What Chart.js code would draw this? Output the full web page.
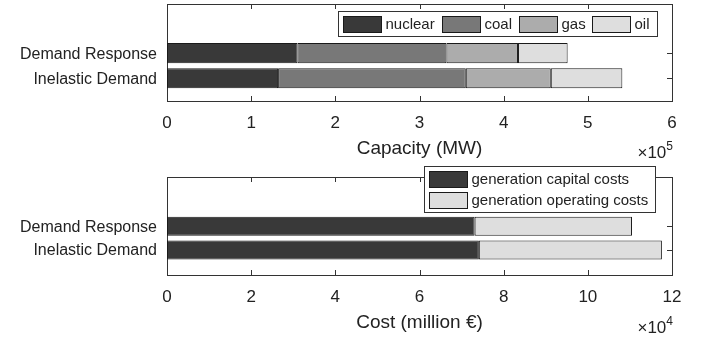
<!DOCTYPE html>
<html>
<head>
<meta charset="utf-8">
<script src="https://cdn.jsdelivr.net/npm/chart.js@4/dist/chart.umd.min.js"></script>
<style>
  html, body { margin: 0; padding: 0; background: #fff; }
  body { width: 702px; height: 339px; position: relative; overflow: hidden; }
  canvas { position: absolute; left: 0; }
  #capacity { top: 0; }
  #cost { top: 165px; }
</style>
</head>
<body>
<canvas id="capacity" width="702" height="170"></canvas>
<canvas id="cost" width="702" height="174"></canvas>
<script>
// Scenarios, plotted bottom-up at y = 1, 2
const categories = ['Inelastic Demand', 'Demand Response'];

// Installed capacity by fuel (MW)
const fuelNames = ['nuclear', 'coal', 'gas', 'oil'];
const nuclearMW = [132000, 155000];
const coalMW    = [223000, 177000];
const gasMW     = [101000,  85000];
const oilMW     = [ 85000,  59000];
const capacityTicks = [0, 1, 2, 3, 4, 5, 6];   // ×10^5 MW

// Generation costs (million €)
const costNames = ['generation capital costs', 'generation operating costs'];
const capitalCost   = [74100, 73100];
const operatingCost = [43500, 37400];
const costTicks = [0, 2, 4, 6, 8, 10, 12];     // ×10^4 million €

const FONT = "'Liberation Sans', Arial, Helvetica, sans-serif";
const INK = '#222222';
const AXIS_INK = '#333333';
const EDGE = '#1a1a1a';
const fuelColors = ['#393939', '#787878', '#acacac', '#dedede'];
const costColors = ['#393939', '#dedede'];

function series(label, values, color) {
  return {
    label,
    data: values.map((v, i) => ({ x: v, y: i + 1 })),
    backgroundColor: color,
    borderColor: EDGE,
    borderWidth: 1,
    borderSkipped: false,
    categoryPercentage: 0.8,
    barPercentage: 1
  };
}

// Box around the plot area with inward tick marks, category labels and the ×10^n multiplier
const matlabAxes = {
  id: 'matlabAxes',
  beforeDatasetsDraw(chart) {
    const { ctx, chartArea: a, scales: { x, y } } = chart;
    const L = 5;
    ctx.save();
    ctx.strokeStyle = AXIS_INK;
    ctx.lineWidth = 1;
    ctx.beginPath();
    x.ticks.forEach((t, i) => {
      const p = Math.round(x.getPixelForTick(i)) + 0.5;
      ctx.moveTo(p, a.top); ctx.lineTo(p, a.top + L);
      ctx.moveTo(p, a.bottom); ctx.lineTo(p, a.bottom - L);
    });
    y.ticks.forEach((t, i) => {
      const p = Math.round(y.getPixelForTick(i)) + 0.5;
      ctx.moveTo(a.left, p); ctx.lineTo(a.left + L, p);
      ctx.moveTo(a.right, p); ctx.lineTo(a.right - L, p);
    });
    ctx.stroke();
    ctx.strokeRect(a.left + 0.5, a.top + 0.5, Math.round(a.width), Math.round(a.height));

    // category names beside the left axis
    ctx.fillStyle = INK;
    ctx.font = `16px ${FONT}`;
    ctx.textAlign = 'right';
    ctx.textBaseline = 'middle';
    categories.forEach((c, i) => {
      ctx.fillText(c, a.left - 10, y.getPixelForValue(i + 1) + 1);
    });
    ctx.restore();
  },
  afterDraw(chart, args, o) {
    if (!o.exponent) return;
    const { ctx, chartArea: a, scales: { x } } = chart;
    ctx.save();
    ctx.fillStyle = INK;
    ctx.textBaseline = 'alphabetic';
    ctx.font = `12px ${FONT}`;
    const sup = String(o.exponent);
    const supW = ctx.measureText(sup).width;
    const baseY = x.bottom - o.lift;
    const sx = a.right + 1 - supW;
    ctx.textAlign = 'left';
    ctx.fillText(sup, sx, baseY - 8);
    ctx.font = `17px ${FONT}`;
    ctx.textAlign = 'right';
    ctx.fillText('\u00d710', sx, baseY);
    ctx.restore();
  }
};

// Framed legend drawn inside/over the axes
const boxLegend = {
  id: 'boxLegend',
  afterDraw(chart, args, o) {
    const { ctx, chartArea: a } = chart;
    const items = chart.data.datasets.map(d => ({ text: d.label, color: d.backgroundColor }));
    ctx.save();
    ctx.font = `15px ${FONT}`;
    const widths = items.map(it => ctx.measureText(it.text).width);
    let w, h;
    if (o.layout === 'row') {
      w = o.padL + widths.reduce((s, tw) => s + o.sw + o.gap + tw, 0) + o.itemGap * (items.length - 1) + o.padR;
      h = o.padT + o.sh + o.padB;
    } else {
      w = o.padL + o.sw + o.gap + Math.max(...widths) + o.padR;
      h = o.padT + o.sh * items.length + o.rowGap * (items.length - 1) + o.padB;
    }
    w = Math.round(w); h = Math.round(h);
    const bx = Math.round(a.right - o.right - w);
    const by = Math.round(a.top + o.top);
    ctx.fillStyle = '#ffffff';
    ctx.fillRect(bx, by, w, h);
    ctx.strokeStyle = AXIS_INK;
    ctx.lineWidth = 1;
    ctx.strokeRect(bx + 0.5, by + 0.5, w, h);
    ctx.textBaseline = 'middle';
    ctx.textAlign = 'left';
    let cx = bx + o.padL, cy = by + o.padT;
    items.forEach((it, i) => {
      const sx = Math.round(cx), sy = Math.round(cy);
      ctx.fillStyle = it.color;
      ctx.fillRect(sx, sy, o.sw, o.sh);
      ctx.strokeStyle = EDGE;
      ctx.strokeRect(sx + 0.5, sy + 0.5, o.sw, o.sh);
      ctx.fillStyle = INK;
      ctx.fillText(it.text, sx + o.sw + o.gap, sy + o.sh / 2 + 1);
      if (o.layout === 'row') cx += o.sw + o.gap + widths[i] + o.itemGap;
      else cy += o.sh + o.rowGap;
    });
    ctx.restore();
  }
};

function makeChart(canvasId, cfg) {
  return new Chart(document.getElementById(canvasId), {
    type: 'bar',
    data: { datasets: cfg.datasets },
    plugins: [matlabAxes, boxLegend],
    options: {
      responsive: false,
      animation: false,
      indexAxis: 'y',
      layout: { padding: { top: cfg.top, right: 30, left: 0, bottom: 0 } },
      scales: {
        x: {
          type: 'linear',
          stacked: true,
          min: cfg.ticks[0] * cfg.unit,
          max: cfg.ticks[cfg.ticks.length - 1] * cfg.unit,
          grid: { display: false, drawTicks: false },
          border: { display: false },
          afterBuildTicks: s => { s.ticks = cfg.ticks.map(v => ({ value: v * cfg.unit })); },
          afterFit: s => { s.height = cfg.xHeight; s.paddingLeft = 0; s.paddingRight = 0; },
          ticks: {
            padding: 12,
            color: INK,
            font: { family: FONT, size: 17 },
            maxRotation: 0,
            autoSkip: false,
            callback: v => String(Math.round(v / cfg.unit))
          },
          title: {
            display: true,
            text: cfg.title,
            color: INK,
            font: { family: FONT, size: 19 },
            padding: { top: 0, bottom: cfg.titlePad }
          }
        },
        y: {
          type: 'linear',
          stacked: true,
          min: cfg.yMin,
          max: cfg.yMax,
          offset: false,
          grid: { display: false, drawTicks: false, offset: false },
          border: { display: false },
          afterBuildTicks: s => { s.ticks = categories.map((c, i) => ({ value: i + 1 })); },
          afterFit: s => { s.width = 167; s.paddingTop = 0; s.paddingBottom = 0; },
          ticks: { display: false }
        }
      },
      plugins: {
        legend: { display: false },
        tooltip: { enabled: false },
        matlabAxes: { exponent: cfg.exponent, lift: cfg.expLift },
        boxLegend: cfg.legend
      }
    }
  });
}

makeChart('capacity', {
  datasets: [
    series(fuelNames[0], nuclearMW, fuelColors[0]),
    series(fuelNames[1], coalMW, fuelColors[1]),
    series(fuelNames[2], gasMW, fuelColors[2]),
    series(fuelNames[3], oilMW, fuelColors[3])
  ],
  ticks: capacityTicks, unit: 1e5, exponent: 5,
  title: 'Capacity (MW)',
  top: 4, xHeight: 69, titlePad: 10, expLift: 12,
  yMin: 0.09, yMax: 3.96,
  legend: { layout: 'row', right: 15, top: 6.5, padL: 5, padR: 7, padT: 4.5, padB: 4.5, sw: 38, sh: 16, gap: 4.5, itemGap: 7 }
});

makeChart('cost', {
  datasets: [
    series(costNames[0], capitalCost, costColors[0]),
    series(costNames[1], operatingCost, costColors[1])
  ],
  ticks: costTicks, unit: 1e4, exponent: 4,
  title: 'Cost (million \u20ac)',
  top: 12, xHeight: 64, titlePad: 5, expLift: 6,
  yMin: -0.06, yMax: 4.08,
  legend: { layout: 'col', right: 17, top: -11, padL: 5, padR: 6.5, padT: 5, padB: 4.5, sw: 38, sh: 16, gap: 4.5, rowGap: 4.7 }
});
</script>
</body>
</html>
